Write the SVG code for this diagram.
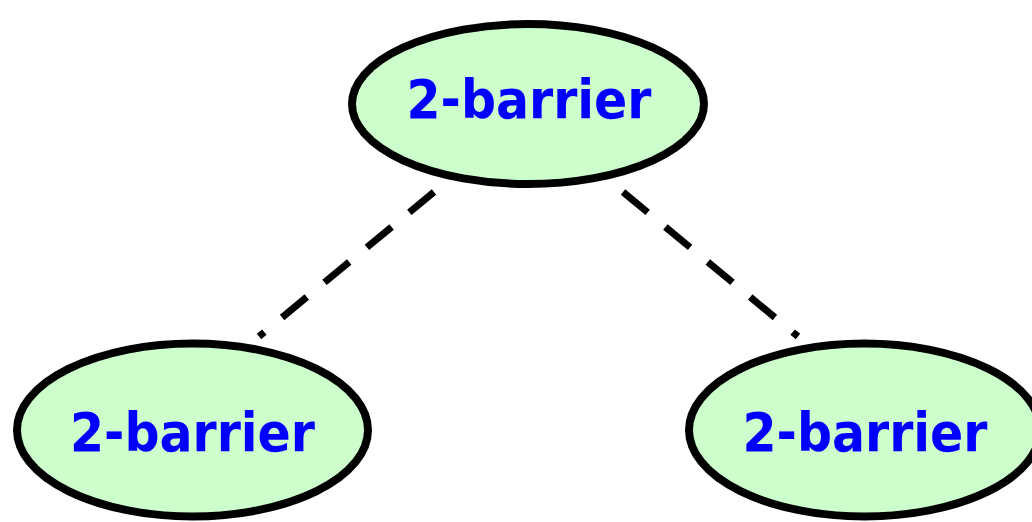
<svg xmlns="http://www.w3.org/2000/svg" width="1032" height="522" viewBox="0 0 1032 522">
  <style>
    .node { fill: #ccffcc; stroke: #000000; stroke-width: 8; }
    .label { font-family: "Comic Sans MS", "DejaVu Sans", sans-serif; font-weight: bold; font-size: 54px; fill: #0000ff; text-anchor: middle; }
    .edge { stroke: #000000; stroke-width: 7; stroke-dasharray: 32 23; fill: none; }
  </style>
  <rect width="1032" height="522" fill="#ffffff"/>
  <g id="connectors">
    <line class="edge" x1="434" y1="192" x2="259" y2="336.5"/>
    <line class="edge" x1="623" y1="192" x2="798" y2="336.5"/>
  </g>
  <g id="root">
    <ellipse class="node" cx="528" cy="104" rx="176" ry="80"/>
    <text class="label" x="529" y="118" textLength="245" lengthAdjust="spacingAndGlyphs">2-barrier</text>
  </g>
  <g id="left">
    <ellipse class="node" cx="192.5" cy="430" rx="175.5" ry="86.5"/>
    <text class="label" x="192.5" y="451" textLength="245" lengthAdjust="spacingAndGlyphs">2-barrier</text>
  </g>
  <g id="right">
    <ellipse class="node" cx="864.5" cy="430" rx="175.5" ry="86.5"/>
    <text class="label" x="865" y="451" textLength="245" lengthAdjust="spacingAndGlyphs">2-barrier</text>
  </g>
</svg>
